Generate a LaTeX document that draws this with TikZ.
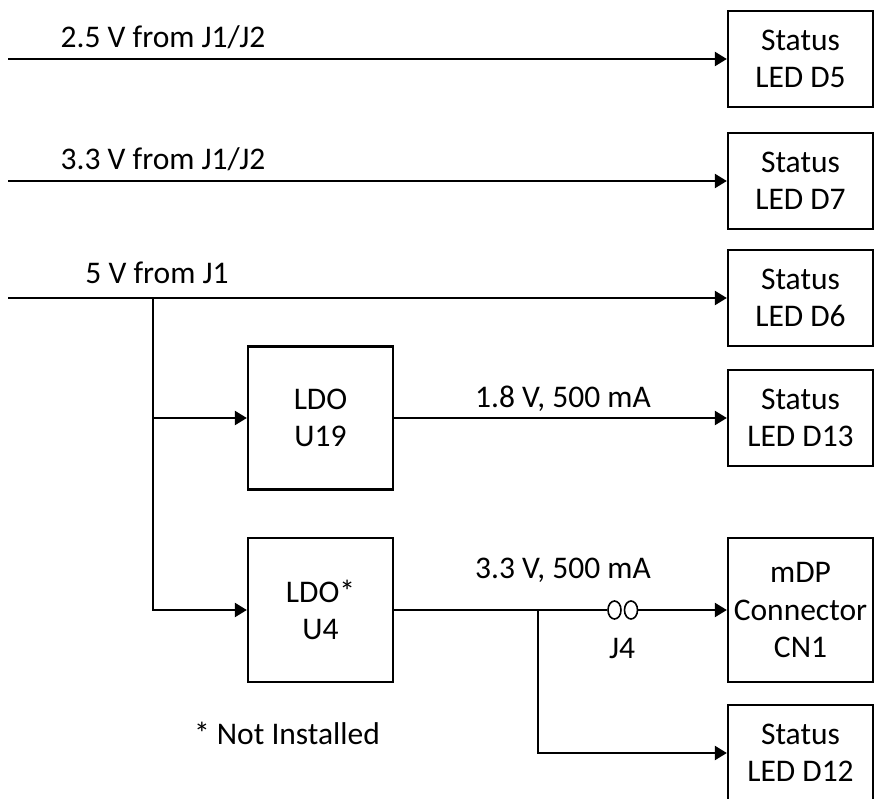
\documentclass[tikz,border=0pt]{standalone}
\usepackage{fontspec}
\setmainfont{Carlito}
\usetikzlibrary{arrows.meta,shapes.geometric}
\begin{document}
\begin{tikzpicture}[x=1pt,y=-1pt,line width=2.3pt,
  txt/.style={font=\fontsize{31.5}{37.5}\selectfont},
  box/.style={draw,txt,minimum width=145pt,align=center,inner sep=0pt},
  arr/.style={-{Triangle[length=12pt,width=14pt]}},
  lbl/.style={txt,anchor=base,inner sep=0pt},
  jmp/.style={draw,ellipse,minimum width=13pt,minimum height=18pt,inner sep=0pt,line width=1.6pt}]
\useasboundingbox (0,0) rectangle (889,798);
% boxes
\node[box,minimum height=96pt] (d5) at (800.5,59) {Status\\LED D5};
\node[box,minimum height=96pt] (d7) at (800.5,181) {Status\\LED D7};
\node[box,minimum height=96pt] (d6) at (800.5,298) {Status\\LED D6};
\node[box,minimum height=96pt] (d13) at (800.5,418) {Status\\LED D13};
\node[box,minimum height=144pt] (cn1) at (800.5,610) {mDP\\Connector\\CN1};
\node[box,minimum height=96pt] (d12) at (800.5,753) {Status\\LED D12};
\node[box,minimum height=143pt] (u19) at (320.5,418) {LDO\\U19};
\node[box,minimum height=144pt] (u4) at (320.5,610) {LDO*\\U4};
\node[jmp] (j4a) at (614.5,610) {};
\node[jmp] (j4b) at (631,610) {};
% coordinates
\coordinate (s1) at (8,59);
\coordinate (s2) at (8,181);
\coordinate (s3) at (8,298);
\coordinate (tap) at (153,298);
\coordinate (br) at (538,610);
% connectors
\draw[arr] (s1) -- (d5.west);
\draw[arr] (s2) -- (d7.west);
\draw[arr] (s3) -- (d6.west);
\draw[arr] (tap) |- (u19.west);
\draw[arr] (tap) |- (u4.west);
\draw[arr] (u19.east) -- (d13.west);
\draw (u4.east) -- (j4a.west);
\draw[arr] (j4b.east) -- (cn1.west);
\draw[arr] (br) |- (d12.west);
% labels
\node[lbl] (l1) at (163,47) {2.5 V from J1/J2};
\node[lbl] (l2) at (163,169) {3.3 V from J1/J2};
\node[lbl] (l3) at (157,283) {5 V from J1};
\node[lbl] (l4) at (563,407) {1.8 V, 500 mA};
\node[lbl] (l5) at (563,578) {3.3 V, 500 mA};
\node[lbl] (l6) at (622,658) {J4};
\node[lbl] (l7) at (287,744) {* Not Installed};
\end{tikzpicture}
\end{document}
